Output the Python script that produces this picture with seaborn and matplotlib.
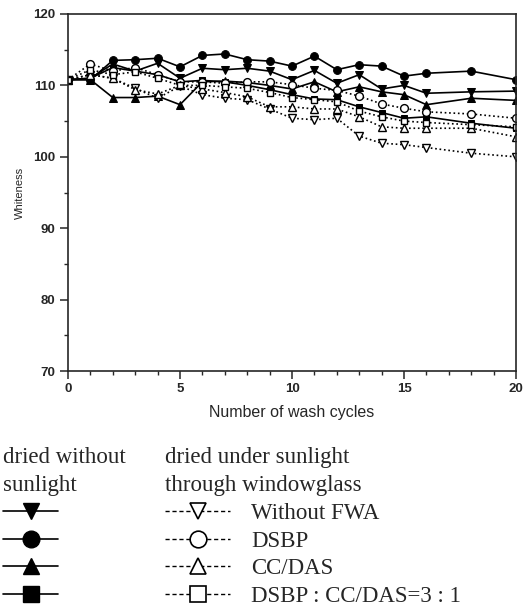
import matplotlib
matplotlib.use("Agg")
import pandas as pd
import seaborn as sns
import matplotlib.pyplot as plt
from matplotlib.lines import Line2D
from matplotlib.ticker import MultipleLocator

# Wash cycles (x axis)
cycles = [0, 1, 2, 3, 4, 5, 6, 7, 8, 9, 10, 11, 12, 13, 14, 15, 16, 18, 20]

# dried without sunlight (filled markers, solid lines)
dark_none = [110.8, 111.0, 113.0, 112.0, 113.1, 111.0, 112.4, 112.2, 112.4, 112.0,
             110.8, 112.1, 110.3, 111.5, 109.5, 110.0, 108.9, 109.1, 109.2]
dark_dsbp = [110.8, 110.8, 113.5, 113.6, 113.8, 112.6, 114.2, 114.4, 113.6, 113.4,
             112.7, 114.1, 112.2, 112.9, 112.7, 111.3, 111.7, 112.0, 110.8]
dark_ccdas = [110.8, 110.8, 108.3, 108.3, 108.5, 107.3, 110.5, 110.6, 110.4, 110.0,
              109.5, 110.5, 109.1, 109.8, 109.1, 108.7, 107.3, 108.2, 107.9]
dark_mix = [110.8, 111.0, 112.5, 112.0, 111.5, 110.5, 110.7, 110.5, 110.0, 109.4,
            108.7, 108.1, 108.0, 107.0, 106.2, 105.4, 105.6, 104.7, 104.0]

# dried under sunlight through windowglass (open markers, dotted lines)
sun_none = [110.8, 111.5, 111.0, 109.6, 108.2, 109.9, 108.7, 108.2, 108.0, 106.7,
            105.4, 105.2, 105.4, 102.9, 101.9, 101.7, 101.3, 100.5, 100.0]
sun_dsbp = [110.8, 113.0, 112.0, 112.5, 111.5, 110.5, 110.5, 110.3, 110.5, 110.5,
            110.1, 109.6, 109.3, 108.5, 107.4, 106.8, 106.3, 106.0, 105.4]
sun_ccdas = [110.8, 111.5, 111.0, 109.4, 108.8, 110.0, 109.5, 109.0, 108.4, 107.0,
             107.0, 106.7, 106.7, 105.6, 104.2, 104.0, 104.0, 104.0, 102.8]
sun_mix = [110.8, 112.2, 111.5, 111.9, 111.0, 110.0, 110.0, 109.8, 109.6, 109.0,
           108.3, 108.0, 107.7, 106.4, 105.6, 105.0, 104.8, 104.5, 104.2]

agents = ['Without FWA', 'DSBP', 'CC/DAS', 'DSBP : CC/DAS=3 : 1']
markers = ['v', 'o', '^', 's']
msizes = [6, 5.6, 6, 5]

rows = []
for agent, dark, sun in zip(agents, [dark_none, dark_dsbp, dark_ccdas, dark_mix],
                            [sun_none, sun_dsbp, sun_ccdas, sun_mix]):
    for c, d, s in zip(cycles, dark, sun):
        rows.append({'cycle': c, 'agent': agent, 'dry': 'dark', 'whiteness': d})
        rows.append({'cycle': c, 'agent': agent, 'dry': 'sun', 'whiteness': s})
df = pd.DataFrame(rows)

sns.set_style("ticks")
plt.rcParams['font.family'] = ['Liberation Sans', 'DejaVu Sans']

fig = plt.figure(figsize=(5.24, 6.07), dpi=100)
ax = fig.add_axes([68 / 524, 1 - 371 / 607, 448 / 524, 357 / 607])

# solid lines first, open markers on top
for agent, m, ms in zip(agents, markers, msizes):
    sub = df[(df['agent'] == agent) & (df['dry'] == 'dark')]
    sns.lineplot(data=sub, x='cycle', y='whiteness', ax=ax, color='black',
                 marker=m, markersize=ms, markerfacecolor='black',
                 markeredgecolor='black', linewidth=1.2, linestyle='-')
for agent, m, ms in zip(agents, markers, msizes):
    sub = df[(df['agent'] == agent) & (df['dry'] == 'sun')]
    sns.lineplot(data=sub, x='cycle', y='whiteness', ax=ax, color='black',
                 marker=m, markersize=ms, markerfacecolor='white',
                 markeredgecolor='black', markeredgewidth=1.0,
                 linewidth=1.2, linestyle=':')

ax.set_xlim(0, 20)
ax.set_ylim(70, 120)
ax.xaxis.set_major_locator(MultipleLocator(5))
ax.xaxis.set_minor_locator(MultipleLocator(1))
ax.yaxis.set_major_locator(MultipleLocator(10))
ax.yaxis.set_minor_locator(MultipleLocator(5))
ax.tick_params(axis='both', which='major', direction='out', length=6, width=1.1,
               labelsize=9.5, pad=3)
ax.tick_params(axis='both', which='minor', direction='out', length=3, width=1)
for lab in ax.get_xticklabels() + ax.get_yticklabels():
    lab.set_fontweight('bold')
for sp in ax.spines.values():
    sp.set_visible(True)
    sp.set_linewidth(1.2)

ax.set_xlabel('Number of wash cycles', fontsize=11.5)
ax.xaxis.set_label_coords(0.5, -0.095)
ax.set_ylabel('Whiteness', fontsize=8)
ax.yaxis.set_label_coords(-0.095, 0.5)

# legends below the plot
serif = {'family': 'Liberation Serif', 'size': 16.5}
lsizes = [12, 12, 12, 11]
h_dark = [Line2D([], [], color='black', lw=1.2, ls='-', marker=m, ms=ms,
                 mfc='black', mec='black') for m, ms in zip(markers, lsizes)]
h_sun = [Line2D([], [], color='black', lw=1.0, ls=(0, (3, 2)), marker=m, ms=ms,
                mfc='white', mec='black', mew=1.2) for m, ms in zip(markers, lsizes)]

leg1 = fig.legend(h_dark, [''] * 4, loc='upper left', bbox_to_anchor=(3 / 524, 1 - 447 / 607),
                  frameon=False, title='dried without\nsunlight', alignment='left',
                  prop=serif, title_fontproperties=serif, handlelength=2.4,
                  handletextpad=0, labelspacing=0.3, borderpad=0, borderaxespad=0)
leg2 = fig.legend(h_sun, agents, loc='upper left', bbox_to_anchor=(165 / 524, 1 - 447 / 607),
                  frameon=False, title='dried under sunlight\nthrough windowglass',
                  alignment='left', prop=serif, title_fontproperties=serif,
                  handlelength=2.84, handletextpad=0.92, labelspacing=0.3,
                  borderpad=0, borderaxespad=0)
for leg in (leg1, leg2):
    leg.get_title().set_linespacing(1.42)

fig.savefig('out.png', dpi=100)
